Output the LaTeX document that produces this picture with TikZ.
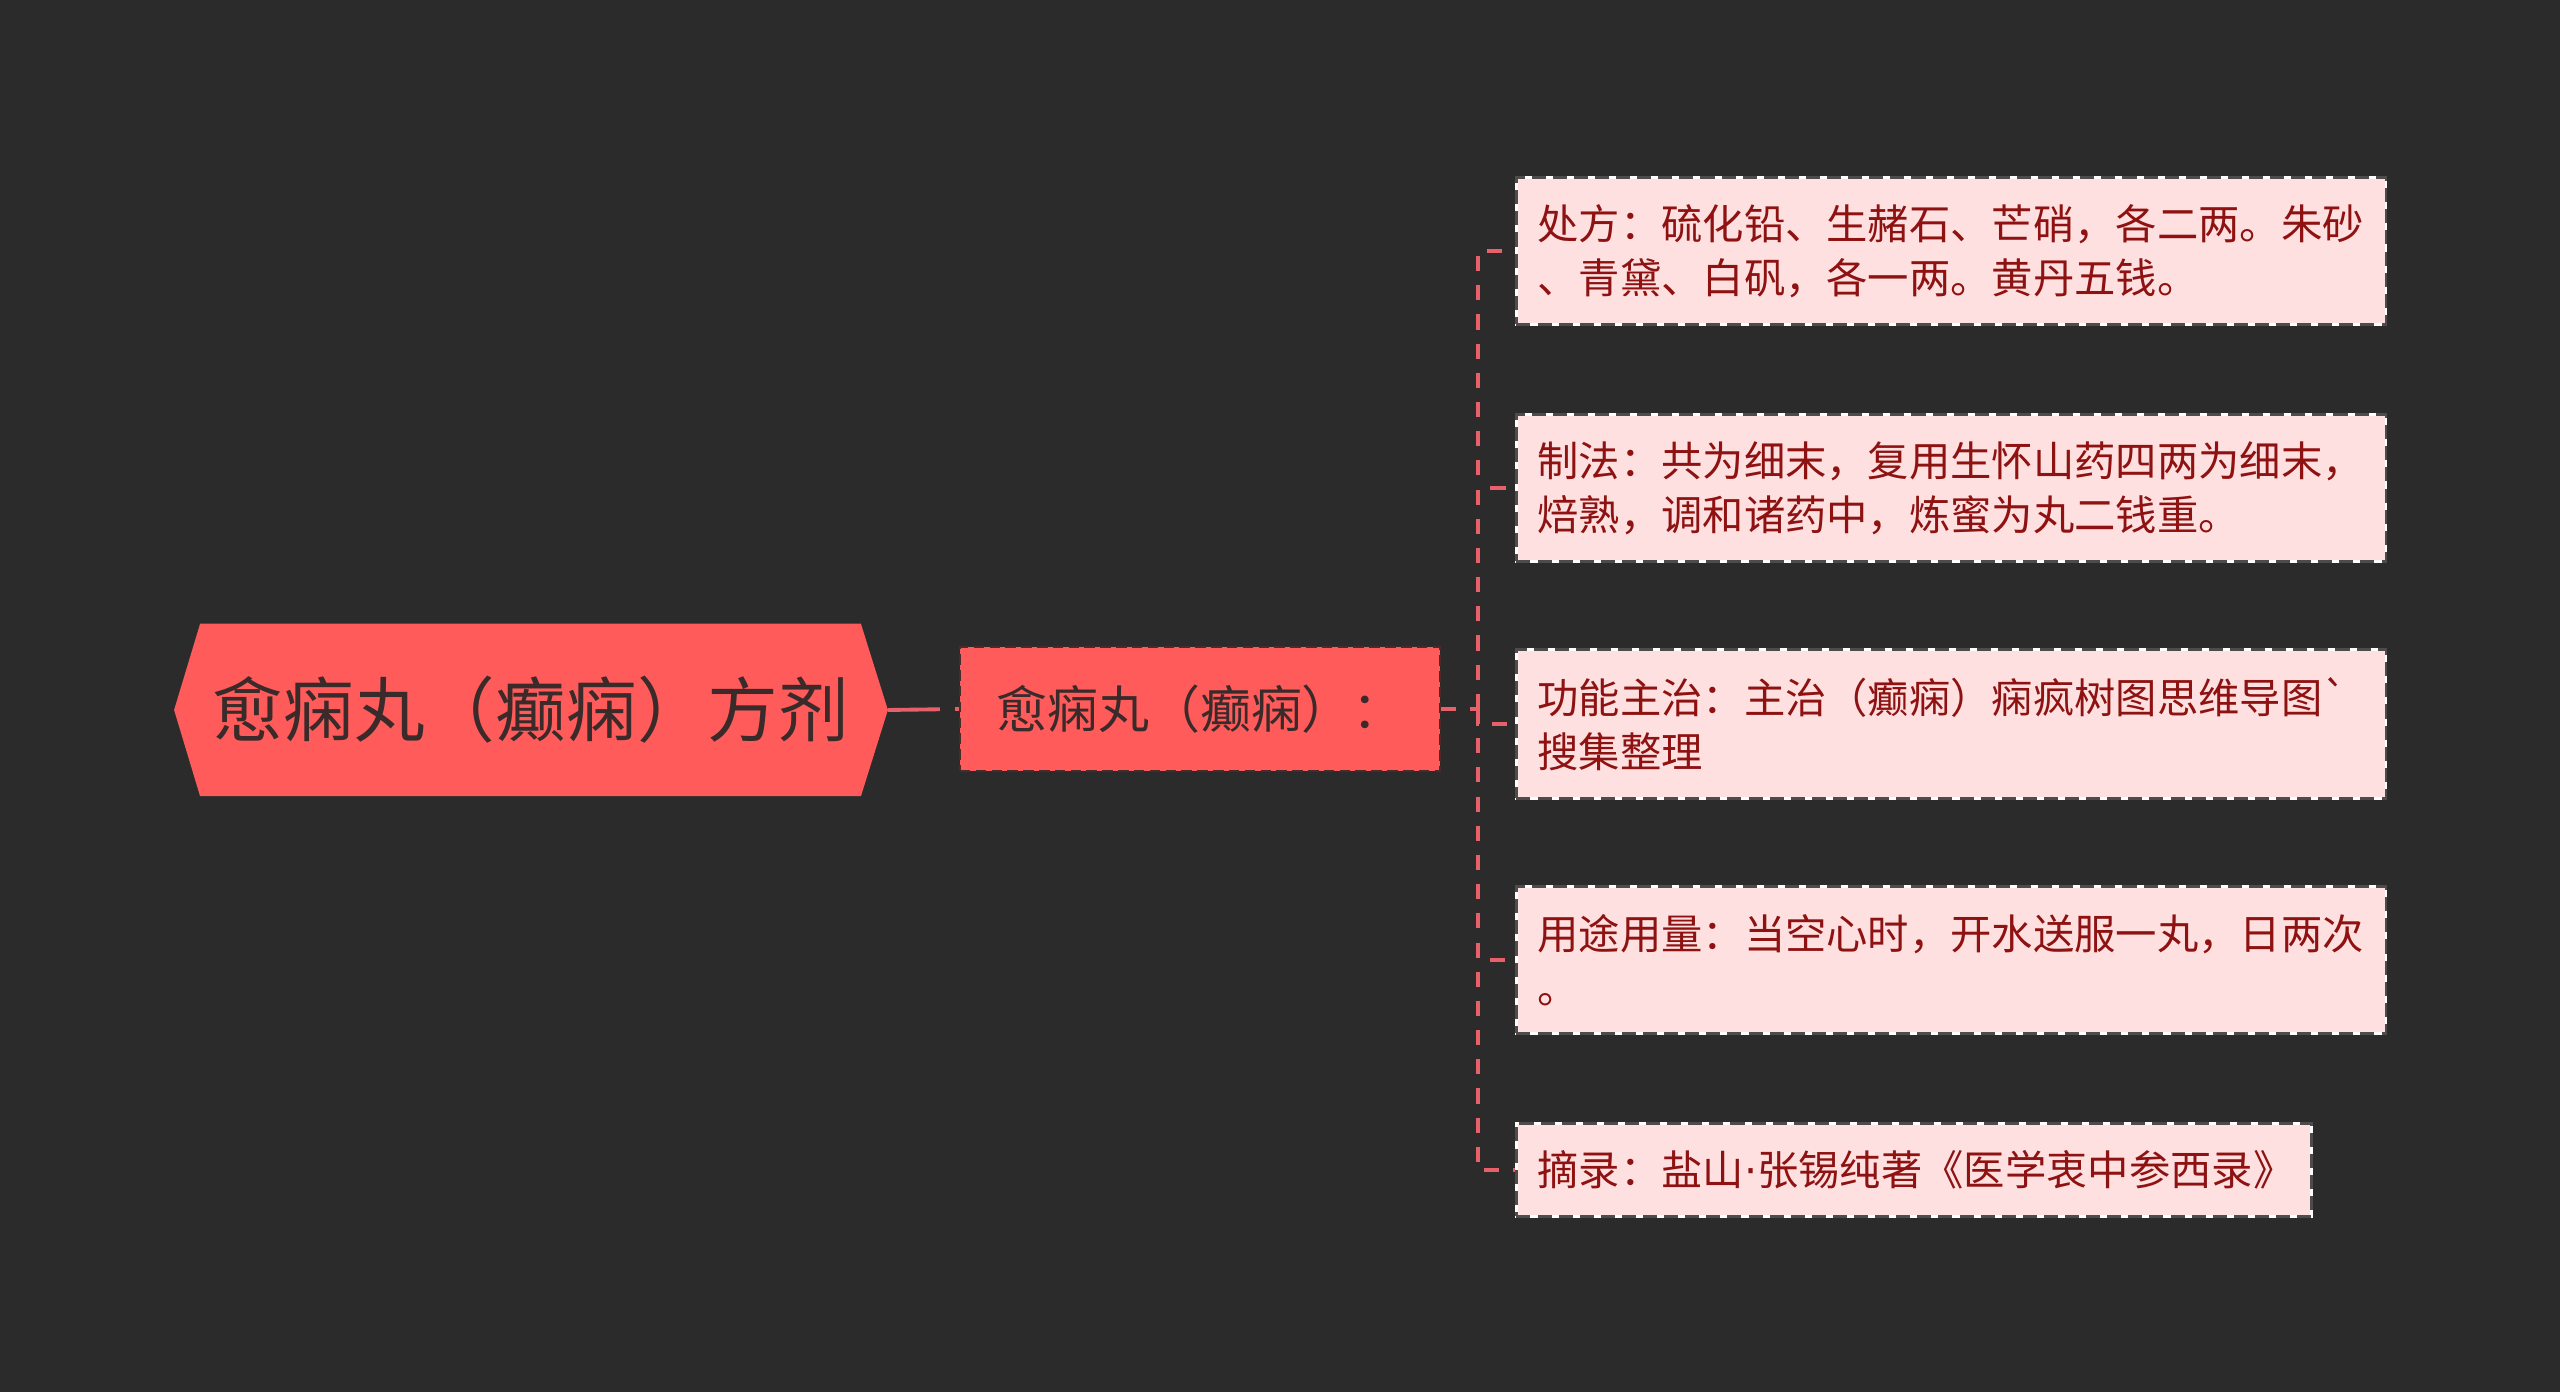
\documentclass[tikz,border=0pt]{standalone}
\usepackage{fontspec}
\setmainfont{Noto Sans CJK SC}
\newfontfamily\dotfont{DejaVu Sans}
\usetikzlibrary{calc}
\definecolor{bgc}{HTML}{2B2B2B}
\definecolor{rootfill}{HTML}{FF5B5B}
\definecolor{darktext}{HTML}{3A2A2A}
\definecolor{childfill}{HTML}{FFE0E0}
\definecolor{childtext}{HTML}{8E1212}
\definecolor{connc}{HTML}{E8606A}
\definecolor{midborder}{HTML}{4A2A2A}
\tikzset{
  conn/.style={draw=connc, line width=1.1pt, dash pattern=on 4.3pt off 4pt},
  rootconn/.style={draw=connc, line width=1.1pt, dash pattern=on 14.8pt off 4.3pt},
  midbox/.style={fill=rootfill, draw=midborder, line width=0.6pt, dash pattern=on 3pt off 1.5pt,
    minimum width=4.8cm, minimum height=1.24cm, inner sep=0pt,
    text=darktext, font=\fontsize{14.5}{18}\selectfont},
  childbox/.style={fill=childfill, draw=white, line width=0.8pt,
    postaction={draw=black!70, line width=0.8pt, dash pattern=on 4pt off 2pt},
    anchor=north west, inner xsep=0.21cm, inner ysep=0pt, align=left,
    text=childtext, font=\fontsize{11.75}{15.4}\selectfont},
}
\begin{document}
\begin{tikzpicture}[x=0.01cm, y=-0.01cm]
\fill[bgc] (0,0) rectangle (2560,1392);
\useasboundingbox (0,0) rectangle (2560,1392);

% root
\node[minimum width=7.12cm, minimum height=1.71cm, inner sep=0pt] (root) at (531,710) {};
\fill[rootfill] (root.west) -- ($(root.north west)+(26,0)$) -- ($(root.north east)+(-27,0)$)
  -- (root.east) -- ($(root.south east)+(-27,0)$) -- ($(root.south west)+(26,0)$) -- cycle;
\node[text=darktext, font=\fontsize{20.1}{24}\selectfont] (roottext) at (root.center) {愈痫丸（癫痫）方剂};

% middle
\node[midbox] (mid) at (1200,709) {愈痫丸（癫痫）：};

% children
\node[childbox, text width=8.27cm, minimum height=1.47cm] (c1) at (1515,176)
  {处方：硫化铅、生赭石、芒硝，各二两。朱砂\\、青黛、白矾，各一两。黄丹五钱。};
\node[childbox, text width=8.27cm, minimum height=1.47cm] (c2) at (1515,413)
  {制法：共为细末，复用生怀山药四两为细末，\\焙熟，调和诸药中，炼蜜为丸二钱重。};
\node[childbox, text width=8.27cm, minimum height=1.49cm] (c3) at (1515,648)
  {功能主治：主治（癫痫）痫疯树图思维导图\textasciigrave\\搜集整理};
\node[childbox, text width=8.27cm, minimum height=1.47cm] (c4) at (1515,885)
  {用途用量：当空心时，开水送服一丸，日两次\\。};
\node[childbox, text width=7.53cm, minimum height=0.93cm] (c5) at (1515,1122)
  {摘录：盐山{\dotfont ·}张锡纯著《医学衷中参西录》};

% connectors
\draw[rootconn] (root.east) -- (mid.west);
\coordinate (j) at (1478,709);
\draw[conn] (mid.east) -- (j);
\foreach \c in {c1,c2,c3,c4,c5}{
  \draw[conn] (j) |- (\c.west);
}
\end{tikzpicture}
\end{document}
